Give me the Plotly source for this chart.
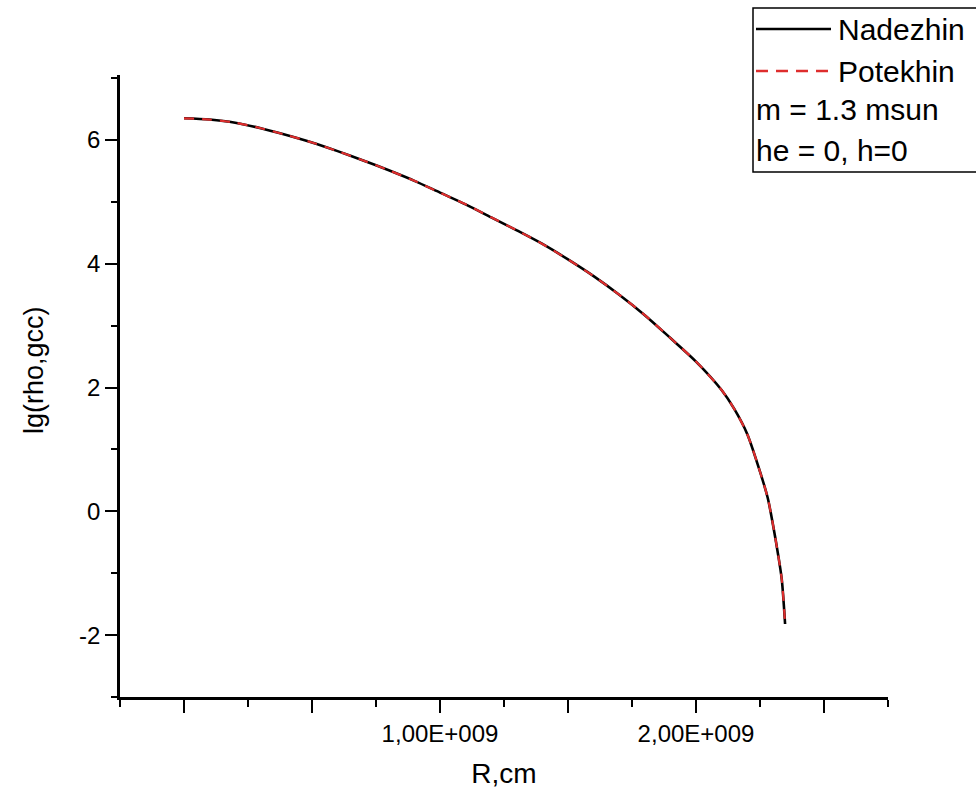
import plotly.graph_objects as go

# Data
r_cm = [0.0, 0.1e9, 0.2e9, 0.3e9, 0.4e9, 0.5e9, 0.6e9, 0.7e9, 0.8e9, 0.9e9,
        1.0e9, 1.1e9, 1.2e9, 1.3e9, 1.4e9, 1.5e9, 1.6e9, 1.7e9, 1.8e9, 1.9e9,
        2.0e9, 2.1e9, 2.15e9, 2.2e9, 2.25e9, 2.28e9, 2.30e9, 2.32e9, 2.335e9, 2.348e9]
lg_rho_nadezhin = [6.35, 6.33, 6.28, 6.19, 6.08, 5.96, 5.82, 5.67, 5.51, 5.34,
                   5.15, 4.96, 4.75, 4.54, 4.32, 4.07, 3.80, 3.50, 3.17, 2.80,
                   2.42, 1.96, 1.65, 1.25, 0.64, 0.22, -0.20, -0.68, -1.10, -1.82]
lg_rho_potekhin = list(lg_rho_nadezhin)

x_major = [0, 0.5e9, 1.0e9, 1.5e9, 2.0e9, 2.5e9]
x_labels = ["", "", "1,00E+009", "", "2,00E+009", ""]
y_major = [-2, 0, 2, 4, 6]
y_labels = ["-2", "0", "2", "4", "6"]

series_names = ["Nadezhin", "Potekhin"]
legend_notes = ["m = 1.3 msun", "he = 0, h=0"]
x_title = "R,cm"
y_title = "lg(rho,gcc)"

FONT = "Liberation Sans, Arial, sans-serif"
RED = "rgb(222,45,45)"

fig = go.Figure()
fig.add_trace(go.Scatter(x=r_cm, y=lg_rho_nadezhin, mode="lines", name=series_names[0],
                         line=dict(color="black", width=2.6, shape="spline", smoothing=0.8)))
fig.add_trace(go.Scatter(x=r_cm, y=lg_rho_potekhin, mode="lines", name=series_names[1],
                         line=dict(color=RED, width=2.2, dash="10px,8px", shape="spline", smoothing=0.8)))

fig.update_layout(
    width=976, height=795,
    margin=dict(l=120, r=88, t=75, b=98),
    paper_bgcolor="white", plot_bgcolor="white",
    showlegend=False,
    font=dict(family=FONT, color="black"),
)
fig.update_xaxes(
    range=[-0.25e9, 2.75e9], showgrid=False, zeroline=False,
    showline=True, linecolor="black", linewidth=2.5,
    tickmode="array", tickvals=x_major, ticktext=x_labels,
    ticks="outside", ticklen=13, tickwidth=2, tickcolor="black",
    tickfont=dict(size=24, family=FONT),
    minor=dict(dtick=0.25e9, tick0=0, ticks="outside", ticklen=7, tickwidth=2, tickcolor="black", showgrid=False),
    title=dict(text=x_title, font=dict(size=28, family=FONT), standoff=18),
)
fig.update_yaxes(
    range=[-3, 7.05], showgrid=False, zeroline=False,
    showline=True, linecolor="black", linewidth=2.5,
    tickmode="array", tickvals=y_major, ticktext=y_labels,
    ticks="outside", ticklen=12, tickwidth=2, tickcolor="black",
    tickfont=dict(size=24, family=FONT),
    minor=dict(dtick=1, tick0=0, ticks="outside", ticklen=6, tickwidth=2, tickcolor="black", showgrid=False),
)

px_x = lambda p: (p - 120) / 768.0
px_y = lambda p: 1 - (p - 75) / 622.0

# Y axis title (placed slightly above the plot centre, as in the original)
fig.add_annotation(xref="paper", yref="paper", x=px_x(34), y=px_y(370),
                   xanchor="center", yanchor="middle", text=y_title, textangle=-90,
                   showarrow=False, font=dict(size=27, family=FONT, color="black"))

# Legend box drawn in the style of the original (Origin) legend
fig.add_shape(type="rect", xref="paper", yref="paper",
              x0=px_x(753), x1=px_x(990), y0=px_y(172), y1=px_y(8),
              line=dict(color="black", width=1.5), fillcolor="white", layer="above")
rows_y = [29, 71, 109, 150]
fig.add_shape(type="line", xref="paper", yref="paper",
              x0=px_x(756), x1=px_x(831), y0=px_y(rows_y[0]), y1=px_y(rows_y[0]),
              line=dict(color="black", width=2.5))
fig.add_shape(type="line", xref="paper", yref="paper",
              x0=px_x(756), x1=px_x(831), y0=px_y(rows_y[1]), y1=px_y(rows_y[1]),
              line=dict(color=RED, width=2.5, dash="12px,8px"))
for i, name in enumerate(series_names):
    fig.add_annotation(xref="paper", yref="paper", x=px_x(836), y=px_y(rows_y[i]),
                       xanchor="left", yanchor="middle", text=name, showarrow=False,
                       font=dict(size=30, family=FONT, color="black"))
for j, note in enumerate(legend_notes):
    fig.add_annotation(xref="paper", yref="paper", x=px_x(754), y=px_y(rows_y[2 + j]),
                       xanchor="left", yanchor="middle", text=note, showarrow=False,
                       font=dict(size=30, family=FONT, color="black"))

fig.write_html("out.html")
